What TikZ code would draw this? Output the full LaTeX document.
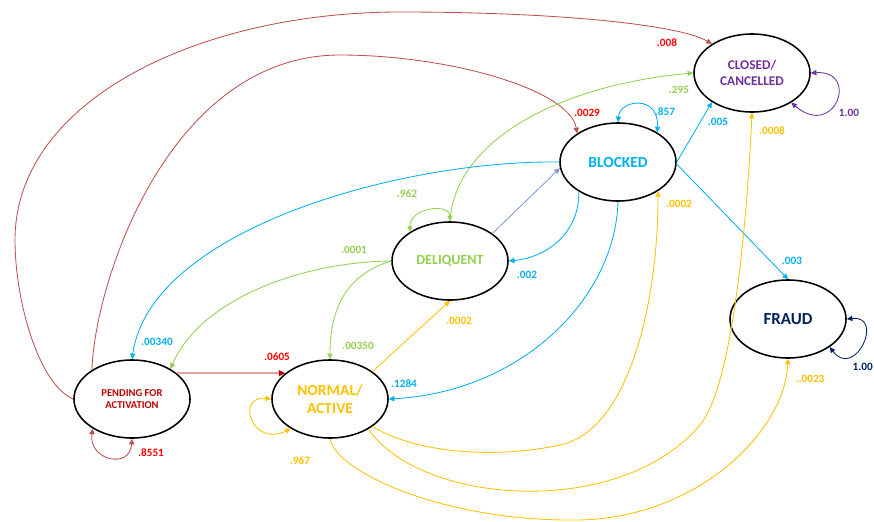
\documentclass[tikz,border=0pt]{standalone}
\usepackage{fontspec}
\setmainfont{Carlito}
\usepackage{xcolor}
\usepackage{tikz}
\usetikzlibrary{shapes.geometric, arrows.meta}

\definecolor{redline}{HTML}{C0504D}
\definecolor{redlab}{HTML}{FF0000}
\definecolor{redtxt}{HTML}{C00000}
\definecolor{pinkline}{HTML}{E8A3A3}
\definecolor{cyanc}{HTML}{00B0F0}
\definecolor{greenc}{HTML}{92D050}
\definecolor{orangec}{HTML}{FFC000}
\definecolor{purplec}{HTML}{7030A0}
\definecolor{navyc}{HTML}{002060}
\definecolor{steelc}{HTML}{7F9BD6}

\begin{document}
\begin{tikzpicture}[x=0.025cm, y=-0.025cm, >={Triangle[length=1.4mm, width=1.3mm]},
  state/.style={ellipse, draw, line width=1.1pt, minimum width=2.9cm, minimum height=1.95cm, inner sep=0pt, align=center, font=\bfseries},
  lbl/.style={font=\fontsize{8}{9}\selectfont\bfseries, inner sep=0pt},
  trans/.style={->, line width=0.6pt},
  selfloop/.style={<->, line width=0.6pt}]

  \useasboundingbox (0,0) rectangle (874,521);

  \node[state, text=redtxt, font=\fontsize{7.5}{9}\selectfont\bfseries] (st-pend) at (132,399) {PENDING FOR\\ACTIVATION};
  \node[state, text=orangec, font=\fontsize{11}{13}\selectfont\bfseries] (st-norm) at (330,399) {NORMAL/\\ACTIVE};
  \node[state, text=greenc, font=\fontsize{10}{12}\selectfont\bfseries] (st-deliq) at (450,261) {DELIQUENT};
  \node[state, text=cyanc, font=\fontsize{11}{13}\selectfont\bfseries] (st-blocked) at (618,162) {BLOCKED};
  \node[state, text=purplec, font=\fontsize{9.5}{11.5}\selectfont\bfseries] (st-closed) at (752,73) {CLOSED/\\CANCELLED};
  \node[state, text=navyc, font=\fontsize{12}{14}\selectfont\bfseries] (st-fraud) at (788,319) {FRAUD};

  % pending for activation
  \draw[selfloop, redline] (st-pend.217) .. controls (88,460) and (130,470) .. (st-pend.270);
  \draw[->, pinkline, line width=1.4pt, >={Triangle[length=1.6mm, width=1.5mm, color=redtxt]}] (st-pend.30) -- (st-norm.150);
  \draw[trans, redline] (st-pend.180) .. controls +(-35,-15) and (15,300) .. (15,240)
    .. controls (15,100) and (200,12) .. (400,12) .. controls (560,12) and (680,25) .. (st-closed.144);
  \draw[trans, redline] (st-pend.144) .. controls (95,280) and (170,55) .. (340,55)
    .. controls (450,55) and (570,90) .. (st-blocked.145);

  % deliquent
  \draw[selfloop, greenc] (st-deliq.144) .. controls +(0,-25) and +(0,-18) .. (st-deliq.90);
  \draw[trans, greenc] (st-deliq.180) .. controls (300,262) and (200,300) .. (st-pend.38);
  \draw[trans, greenc] (st-deliq.180) .. controls (345,275) and (330,310) .. (st-norm.90);
  \draw[trans, greenc] (st-deliq.90) .. controls (455,140) and (560,85) .. (st-closed.180);
  \draw[trans, steelc] (st-deliq.33) -- (st-blocked.186);

  % blocked
  \draw[selfloop, cyanc] (st-blocked.90) .. controls +(2,-23) and +(2,-38) .. (st-blocked.37);
  \draw[trans, cyanc] (st-blocked.180) .. controls (400,160) and (150,230) .. (st-pend.90);
  \draw[trans, cyanc] (st-blocked.217) .. controls (580,230) and (550,257) .. (st-deliq.0);
  \draw[trans, cyanc] (st-blocked.270) .. controls (615,300) and (520,392) .. (st-norm.0);
  \draw[trans, cyanc] (st-blocked.0) -- (st-closed.216);
  \draw[trans, cyanc] (st-blocked.358) -- (st-fraud.90);

  % normal / active
  \draw[selfloop, orangec] (st-norm.180) .. controls (235,395) and (252,448) .. (st-norm.217);
  \draw[trans, orangec] (st-norm.33) -- (st-deliq.270);
  \draw[trans, orangec] (st-norm.327) .. controls (420,455) and (500,458) .. (560,445)
    .. controls (630,430) and (658,300) .. (st-blocked.324);
  \draw[trans, orangec] (st-norm.322) .. controls (420,505) and (620,520) .. (700,425)
    .. controls (735,383) and (748,200) .. (st-closed.270);
  \draw[trans, orangec] (st-norm.270) .. controls (335,470) and (440,522) .. (580,520)
    .. controls (700,517) and (785,430) .. (st-fraud.270);

  % absorbing states
  \draw[selfloop, purplec] (st-closed.0) .. controls (860,70) and (835,140) .. (st-closed.323);
  \draw[selfloop, navyc] (st-fraud.0) .. controls (885,315) and (855,380) .. (st-fraud.326);

  % probabilities
  \node[lbl, text=redlab] (p-pend-closed) at (667,43) {.008};
  \node[lbl, text=redlab] (p-pend-blocked) at (587,113) {.0029};
  \node[lbl, text=redlab] (p-pend-norm) at (277,357) {.0605};
  \node[lbl, text=redlab] (p-pend-pend) at (151,453) {.8551};
  \node[lbl, text=cyanc] (p-blocked-pend) at (157,342) {.00340};
  \node[lbl, text=greenc] (p-deliq-pend) at (354,250) {.0001};
  \node[lbl, text=greenc] (p-deliq-norm) at (358,346) {.00350};
  \node[lbl, text=greenc] (p-deliq-deliq) at (407,194) {.962};
  \node[lbl, text=greenc] (p-deliq-closed) at (679,90) {.295};
  \node[lbl, text=cyanc] (p-blocked-deliq) at (527,275) {.002};
  \node[lbl, text=cyanc] (p-blocked-blocked) at (665,112) {.857};
  \node[lbl, text=cyanc] (p-blocked-closed) at (718,122) {.005};
  \node[lbl, text=cyanc] (p-blocked-fraud) at (792,261) {.003};
  \node[lbl, text=cyanc] (p-blocked-norm) at (404,384) {.1284};
  \node[lbl, text=orangec] (p-norm-deliq) at (459,321) {.0002};
  \node[lbl, text=orangec] (p-norm-blocked) at (679,204) {.0002};
  \node[lbl, text=orangec] (p-norm-closed) at (772,131) {.0008};
  \node[lbl, text=orangec] (p-norm-fraud) at (810,379) {..0023};
  \node[lbl, text=orangec] (p-norm-norm) at (300,461) {.967};
  \node[lbl, text=purplec] (p-closed-closed) at (849,113) {1.00};
  \node[lbl, text=navyc, anchor=east] (p-fraud-fraud) at (873,367) {1.00};

\end{tikzpicture}
\end{document}
